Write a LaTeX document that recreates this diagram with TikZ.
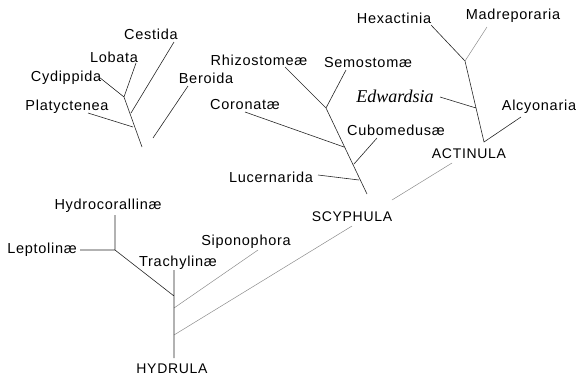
\documentclass[tikz,border=0pt]{standalone}
\usepackage{fontspec}
\setmainfont[LetterSpace=5]{Liberation Sans}
\newfontfamily\edfont{Liberation Serif}

\begin{document}
\begin{tikzpicture}[x=1pt,y=-1pt,
        taxon/.style={
        inner sep=0pt,
        font=\fontsize{14.5}{17}\selectfont},
        stage/.style={
        inner sep=0pt,
        font=\fontsize{14}{17}\selectfont},
        branch/.style={line width=0.6pt, black!85},
        faint/.style={line width=0.5pt, black!45},
        ]

        \useasboundingbox (0,0) rectangle (576,376);

        \node (cestida) [taxon] at (151,34){Cestida};
        \node (lobata) [taxon] at (114,57){Lobata};
        \node (cydippida) [taxon] at (66,78){Cydippida};
        \node (platyctenea) [taxon] at (67,107){Platyctenea};
        \node (beroida) [taxon] at (206,78){Beroida};

        \node (rhizostomeae) [taxon] at (259,60){Rhizostome\ae};
        \node (semostomae) [taxon] at (368,63){Semostom\ae};
        \node (coronatae) [taxon] at (245,105){Coronat\ae};
        \node (cubomedusae) [taxon] at (396,130){Cubomedus\ae};
        \node (lucernarida) [taxon] at (271,177){Lucernarida};

        \node (hexactinia) [taxon] at (394,18){Hexactinia};
        \node (madreporaria) [taxon] at (513,16){Madreporaria};
        \node (edwardsia) [taxon, font=\fontsize{18}{20}\edfont\itshape] at (395,96){Edwardsia};
        \node (alcyonaria) [taxon] at (539,107){Alcyonaria};

        \node (actinula) [stage] at (469,154){ACTINULA};
        \node (scyphula) [stage] at (352,217){SCYPHULA};
        \node (hydrula) [stage] at (172,369){HYDRULA};

        \node (siponophora) [taxon] at (246,242){Siponophora};
        \node (trachylinae) [taxon] at (178,263){Trachylin\ae};
        \node (hydrocorallinae) [taxon] at (108,206){Hydrocorallin\ae};
        \node (leptolinae) [taxon] at (42,250){Leptolin\ae};

        \coordinate (ce1) at (174,42);
        \coordinate (ce0) at (131,113);
        \coordinate (lo1) at (136,63);
        \coordinate (cy1) at (99,77);
        \coordinate (ct0) at (124,97);
        \coordinate (ctb) at (142,147);
        \coordinate (pl1) at (88,113);
        \coordinate (pl0) at (133,127);
        \coordinate (be1) at (188,86);
        \coordinate (be0) at (153,138);

        \coordinate (rh1) at (285,67);
        \coordinate (se1) at (346,70);
        \coordinate (sc0) at (326,108);
        \coordinate (scb) at (367,194);
        \coordinate (co1) at (245,112);
        \coordinate (co0) at (344,147);
        \coordinate (cu1) at (377,138);
        \coordinate (cu0) at (354,164);
        \coordinate (lu1) at (318,175);
        \coordinate (lu0) at (359,180);

        \coordinate (hx1) at (431,25);
        \coordinate (ma1) at (487,27);
        \coordinate (an0) at (465,61);
        \coordinate (anb) at (484,142);
        \coordinate (ed1) at (440,97);
        \coordinate (ed0) at (476,108);
        \coordinate (al1) at (521,117);

        \coordinate (ac1) at (452,163);
        \coordinate (ac2) at (392,200);
        \coordinate (sy1) at (352,226);

        \coordinate (hc1) at (115,215);
        \coordinate (hc0) at (115,250);
        \coordinate (le1) at (80,250);
        \coordinate (ht) at (174,270);
        \coordinate (hy0) at (174,296);
        \coordinate (hy1) at (174,308);
        \coordinate (hy2) at (174,335);
        \coordinate (hb) at (174,358);
        \coordinate (si1) at (258,250);

        \draw [branch] (ce1) -- (ce0) (lo1) -- (ct0) (cy1) -- (ct0) -- (ctb)
            (pl1) -- (pl0) (be1) -- (be0);
        \draw [branch] (rh1) -- (sc0) (se1) -- (sc0) -- (scb)
            (co1) -- (co0) (cu1) -- (cu0) (lu1) -- (lu0);
        \draw [branch] (hx1) -- (an0) -- (anb) -- (al1) (ed1) -- (ed0);
        \draw [faint] (ma1) -- (an0);
        \draw [faint] (ac1) -- (ac2) (sy1) -- (hy2) (si1) -- (hy1);
        \draw [branch] (hc1) -- (hc0) (le1) -- (hc0) -- (hy0) (ht) -- (hb);
    \end{tikzpicture}
\end{document}
